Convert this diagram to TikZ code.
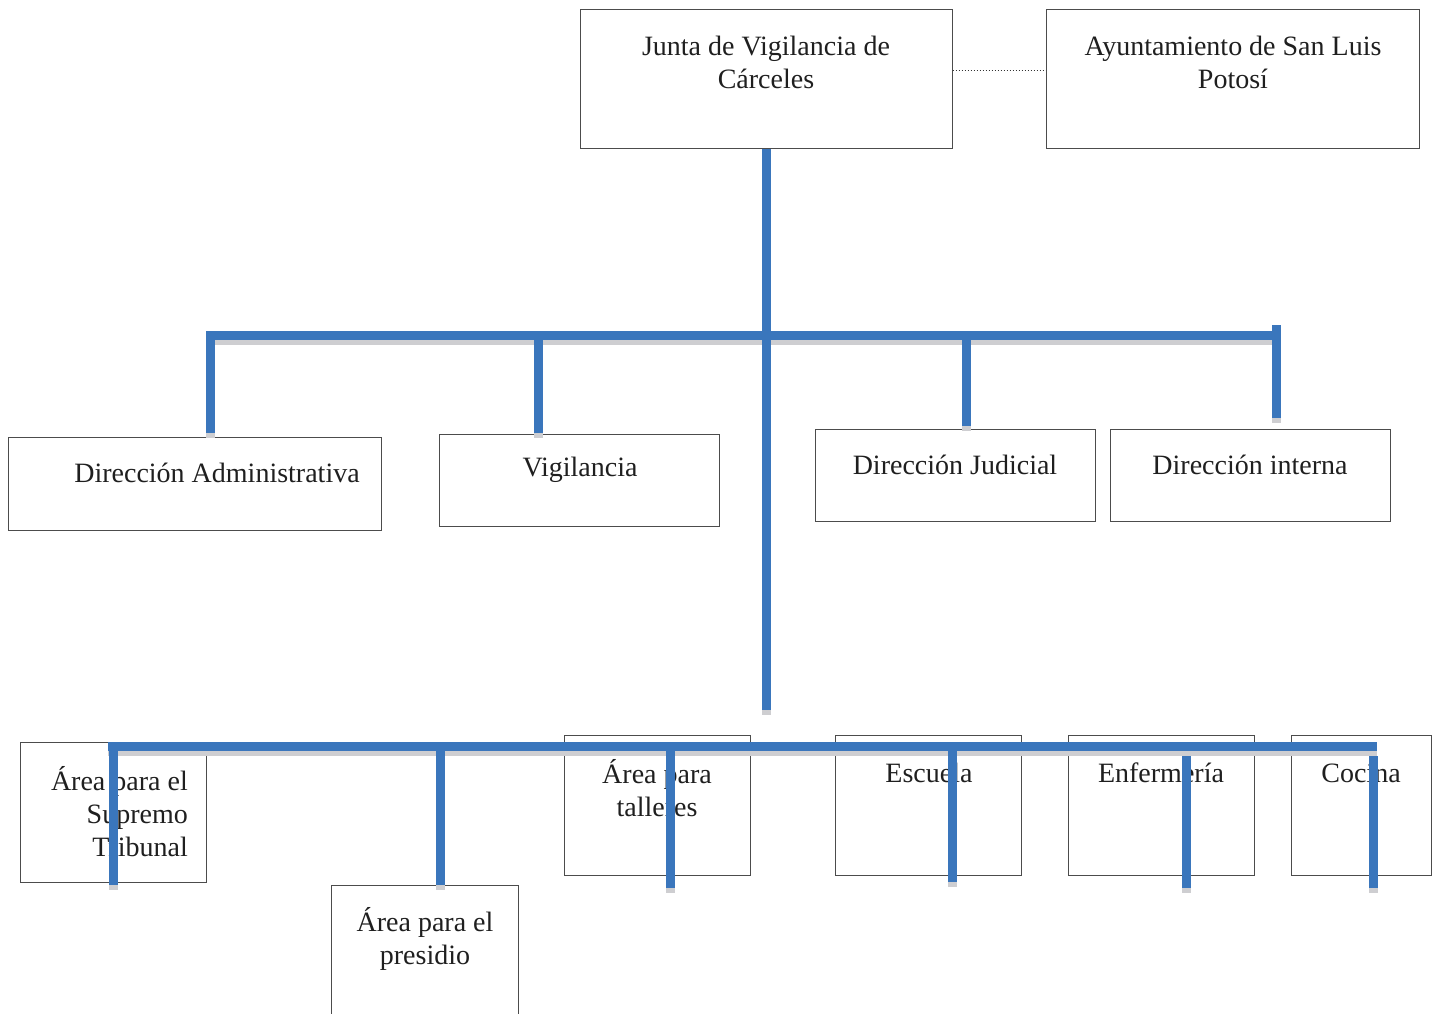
\documentclass[tikz,border=0pt]{standalone}
\usepackage{fontspec}
\setmainfont{Liberation Serif}
\usepackage{xcolor}
\usepackage{tikz}
\usetikzlibrary{positioning}

\definecolor{barblue}{RGB}{58,118,188}
\definecolor{barshade}{RGB}{206,206,209}

\tikzset{
  box/.style={draw=black!70, line width=1pt, inner sep=0pt},
  txt/.style={font=\fontsize{28}{33}\selectfont, text=black!88, align=center, inner sep=0pt},
  bar/.style={draw=barblue, line width=9pt},
  shade/.style={draw=barshade, line width=9pt}
}

\begin{document}
\begin{tikzpicture}[x=1pt, y=-1pt]
  \useasboundingbox (0,0) rectangle (1433,1014);

  % Cajas superiores
  \node[box, minimum width=372pt, minimum height=139pt] (junta) at (766,79.5) {};
  \node[box, minimum width=373pt, minimum height=139pt] (ayunt) at (1232.5,79.5) {};
  \node[txt] (juntaT) at (766,62.5) {Junta de Vigilancia de\\Cárceles};
  \node[txt] (ayuntT) at (1233,62.5) {Ayuntamiento de San Luis\\Potosí};
  \draw[black!80, line width=0.9pt, dash pattern=on 1pt off 2pt]
    (junta.east |- 0,70) -- (ayunt.west |- 0,70);

  % Direcciones
  \node[box, minimum width=373pt, minimum height=93pt] (adm) at (194.5,483.5) {};
  \node[box, minimum width=280pt, minimum height=92pt] (vig) at (579,480) {};
  \node[box, minimum width=280pt, minimum height=92pt] (jud) at (955,475) {};
  \node[box, minimum width=280pt, minimum height=92pt] (int) at (1250,475) {};
  \node[txt] (admT) at (217,473) {Dirección Administrativa};
  \node[txt] (vigT) at (580,470) {Vigilancia};
  \node[txt] (judT) at (955,465) {Dirección Judicial};
  \node[txt] (intT) at (1250,465) {Dirección interna};

  % Areas
  \node[box, minimum width=186pt, minimum height=140pt] (sup) at (113,812) {};
  \node[minimum width=186pt, minimum height=128pt, inner sep=0pt] (pres) at (425,950) {};
  \draw[box] (pres.south west) |- (pres.north east) -- (pres.south east);
  \node[box, minimum width=186pt, minimum height=140pt] (tall) at (657,805) {};
  \node[box, minimum width=186pt, minimum height=140pt] (esc) at (928,805) {};
  \node[box, minimum width=186pt, minimum height=140pt] (enf) at (1161,805) {};
  \node[box, minimum width=140pt, minimum height=140pt] (coc) at (1361,805) {};
  \node[txt, align=right, anchor=east] (supT) at (188,811.5) {Área para el\\Supremo\\Tribunal};
  \node[txt] (presT) at (425,939) {Área para el\\presidio};
  \node[txt] (tallT) at (657,788.5) {Área para\\talleres};
  \node[txt] (escT) at (929,773) {Escuela};
  \node[txt] (enfT) at (1161,773) {Enfermería};
  \node[txt] (cocT) at (1361,773) {Cocina};

  % Puntos de las barras
  \coordinate (trunkE) at (766,710);
  \coordinate (busAw) at (206,335);
  \coordinate (busAe) at (1276,335);
  \coordinate (busBw) at (108,746);
  \coordinate (busBe) at (1377,746);

  % Sombras y barras
  \foreach \sty/\dy in {shade/5, bar/0} {
    \draw[\sty] ([yshift=-\dy pt]junta.south) -- ([yshift=-\dy pt]trunkE);
    \draw[\sty] ([yshift=-\dy pt]busAw) -- ([yshift=-\dy pt]busAe);
    \draw[\sty] ([yshift=-\dy pt]busBw) -- ([yshift=-\dy pt]busBe);
    \foreach \xa/\ya/\yb in {210/331/433, 538/335/433, 966/335/426, 1276/325/418,
                             113/742/885, 440/746/885, 670/746/888, 952/746/882,
                             1186/756/888, 1373/756/888} {
      \draw[\sty] ([yshift=-\dy pt]\xa,\ya) -- ([yshift=-\dy pt]\xa,\yb);
    }
  }
\end{tikzpicture}
\end{document}
